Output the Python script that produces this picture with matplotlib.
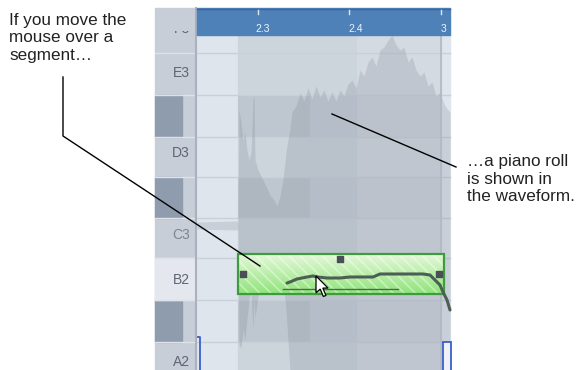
import numpy as np
import matplotlib; matplotlib.use("Agg")
import matplotlib.pyplot as plt
from matplotlib.patches import Rectangle, Polygon
from matplotlib.colors import LinearSegmentedColormap
plt.rcParams.update({"font.family": "Liberation Sans", "hatch.linewidth": 1.2})

# ---- values (pixel coords, y down) ----
key_names = ["F3", "E3", "D3", "C3", "B2", "A2"]
key_label_y = [29, 73, 153, 235, 280, 362]
row_lines = [53, 95, 137, 177, 218, 258, 300, 342]
black_rows = [(95, 137), (177, 218), (300, 342)]
ruler_labels = ["2.3", "2.4", "3"]
ruler_label_x = [263, 356, 444]
ruler_tick_x = [258, 349, 441]

# waveform envelope (upper / lower edge)
wave_x = [197, 237, 238, 239, 241, 243, 245, 247, 249, 251, 253, 254, 255, 258, 262, 266, 270,
          274, 277, 280, 283, 286, 288, 290, 292, 296, 300, 304, 308, 312, 316, 320, 324, 328,
          332, 336, 340, 344, 348, 352, 356, 360, 364, 368, 372, 376, 380, 384, 388, 392, 396,
          400, 404, 408, 412, 416, 420, 424, 428, 432, 436, 440, 444, 448, 450]
wave_top = [222, 221, 224, 110, 122, 140, 132, 150, 160, 152, 100, 95, 160, 170, 178, 186, 195,
            200, 206, 196, 180, 152, 140, 128, 112, 106, 93, 101, 88, 99, 86, 97, 90, 101,
            92, 101, 90, 96, 84, 80, 88, 70, 76, 62, 57, 66, 50, 47, 40, 35, 45,
            50, 47, 62, 57, 70, 76, 72, 86, 82, 96, 92, 104, 110, 112]
wave_bot = [229, 230, 228, 345, 348, 330, 340, 318, 300, 292, 330, 300, 318, 296, 290, 285, 280,
            270, 255, 270, 280, 310, 340, 372, 380, 380, 380, 380, 380, 380, 380, 380, 380, 380,
            380, 380, 380, 380, 380, 380, 380, 380, 380, 380, 380, 380, 380, 380, 380, 380, 380,
            380, 380, 380, 380, 380, 380, 380, 380, 380, 380, 380, 380, 380, 380]

# pitch curve inside the segment and the note line
pitch_x = [287, 290, 297, 307, 313, 318, 327, 340, 350, 363, 373, 380, 390, 423, 430, 435, 440, 443, 447, 450]
pitch_y = [283, 282, 279, 277, 276, 277, 278, 278, 277, 277, 277, 274, 274, 274, 275, 280, 285, 292, 300, 310]
note_x = [283, 398]
note_y = [289, 289]

seg = (238, 254, 444, 294)          # x0, y0, x1, y1 of green segment
handles_x = [340, 243, 439]
handles_y = [259, 274, 274]

cursor_x = [0, 0, 4, 7, 9.5, 6.5, 11.5]
cursor_y = [0, 16, 12.5, 19.5, 18.5, 11.5, 11.5]

left_text = "If you move the\nmouse over a\nsegment…"
right_text = "…a piano roll\nis shown in\nthe waveform."

fig = plt.figure(figsize=(5.8, 3.7), dpi=100)
ax = fig.add_axes([0, 0, 1, 1])
ax.set_xlim(0, 580); ax.set_ylim(370, 0); ax.axis("off")

# keyboard column
ax.add_patch(Rectangle((155, 8), 42, 362, color="#c7ced8", zorder=1))
for y0, y1 in black_rows:
    ax.add_patch(Rectangle((155, y0), 27, y1 - y0, color="#8f9cae", zorder=2))
ax.add_patch(Rectangle((155, 258), 41, 42, color="#e4e8ee", zorder=2))
for y in row_lines:
    ax.plot([155, 196], [y, y], color="#dde2e8", lw=1, zorder=2)
for name, y in zip(key_names, key_label_y):
    ax.text(190, y, name, ha="right", va="center", fontsize=10,
            color="#5d6673" if name != "C3" else "#7d8593", zorder=3)
# keyboard header hides the upper part of the F3 label
ax.add_patch(Rectangle((155, 8), 41, 23, color="#c7ced8", lw=0, zorder=3.5))
ax.plot([196, 196], [8, 370], color="#a9b2be", lw=1.5, zorder=3.6)

# track area
ax.add_patch(Rectangle((197, 35), 253, 335, color="#dfe5ec", zorder=1))
ax.add_patch(Rectangle((238, 35), 203, 335, color="#d3dae2", zorder=1))
ax.add_patch(Rectangle((238, 35), 119, 335, color="#5a6676", alpha=0.05, lw=0, zorder=1.1))
for y0, y1 in black_rows:
    ax.add_patch(Rectangle((238, y0), 72, y1 - y0, color="#5a6676", alpha=0.12, lw=0, zorder=1.2))
    ax.add_patch(Rectangle((310, y0), 131, y1 - y0, color="#5a6676", alpha=0.04, lw=0, zorder=1.2))
for y in row_lines:
    ax.plot([197, 450], [y, y], color="#c8d0da", lw=1, zorder=1.3)
ax.fill_between(wave_x, wave_top, wave_bot, color="#6f7a88", alpha=0.2, lw=0, zorder=1.5)
ax.plot([441, 441], [35, 370], color="#b0b8c3", lw=1.2, zorder=1.6)

# blue event edges at bottom
ax.plot([197, 199.5, 199.5], [337, 337, 370], color="#3a5fc8", lw=1.3, zorder=2)
ax.add_patch(Rectangle((443, 342), 8, 30, facecolor="#eef2f8", edgecolor="#3a5fc8", lw=1.3, zorder=2))

# ruler
ax.add_patch(Rectangle((197, 8), 253, 27, color="#4f81b9", zorder=4))
ax.plot([197, 450], [8.5, 8.5], color="#3d6696", lw=1, zorder=4)
for x in ruler_tick_x:
    ax.plot([x, x], [10, 14], color="#dce6f2", lw=1, zorder=5)
for lab, x in zip(ruler_labels, ruler_label_x):
    ax.text(x, 29.5, lab, ha="center", va="center", fontsize=7.5, color="#eef3f9", zorder=5)

# green segment: gradient + hatch + border
x0, y0, x1, y1 = seg
grad = np.linspace(0, 1, 64)[:, None]
gcm = LinearSegmentedColormap.from_list("g", ["#e4f8d8", "#8fe47a"])
ax.imshow(grad, cmap=gcm, extent=(x0, x1, y1, y0), aspect="auto", zorder=6, interpolation="bilinear")
ax.set_xlim(0, 580); ax.set_ylim(370, 0)
ax.add_patch(Rectangle((x0, y0), x1 - x0, y1 - y0, fill=False, hatch="\\\\\\",
                       edgecolor=(1, 1, 1, 0.4), lw=0, zorder=6.5))
ax.add_patch(Rectangle((x0, y0), x1 - x0, y1 - y0, fill=False, edgecolor="#3e9c3e", lw=1.6, zorder=7))
ax.plot(note_x, note_y, color="#4f6a4f", lw=1, zorder=7)
ax.plot(pitch_x, pitch_y, color="#4d5f55", lw=2.2, zorder=7.5, solid_capstyle="round")
ax.scatter(handles_x, handles_y, marker="s", s=14, color="#4a4f55", zorder=8)

# mouse cursor
cx, cy = 316, 276
pts = np.column_stack([cx + np.array(cursor_x) * 1.05, cy + np.array(cursor_y) * 1.05])
ax.add_patch(Polygon(pts, closed=True, facecolor="white", edgecolor="black", lw=0.9, zorder=9))

# callouts
ax.text(9, 38, left_text, ha="left", va="center", fontsize=12.3, color="#222222",
        linespacing=1.2, zorder=10)
ax.text(467, 179, right_text, ha="left", va="center", fontsize=12.3, color="#222222",
        linespacing=1.2, zorder=10)
ax.plot([63, 63, 260], [77, 136, 266], color="black", lw=1, zorder=10)
ax.plot([332, 456], [114, 167], color="black", lw=1, zorder=10)

fig.savefig("out.png", dpi=100)
